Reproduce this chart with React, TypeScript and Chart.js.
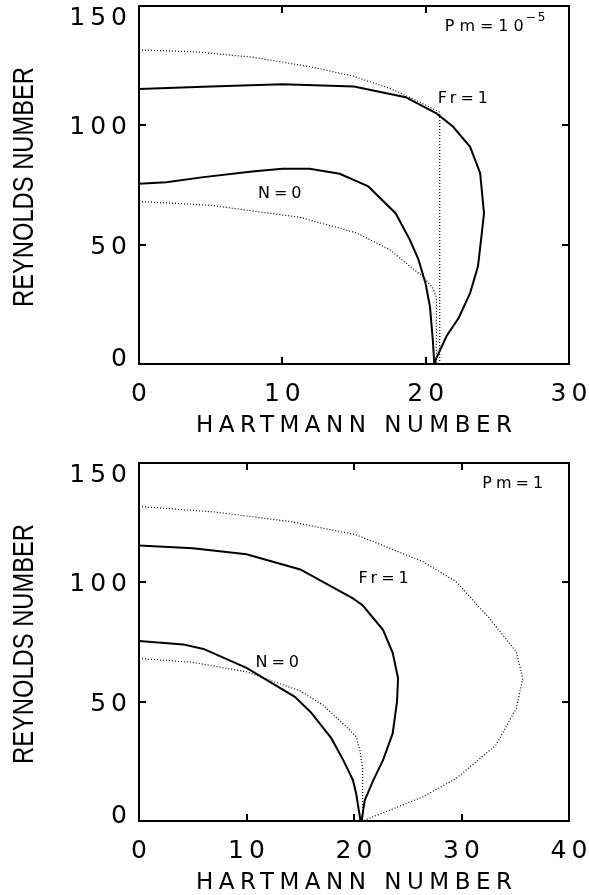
import React, { useEffect, useRef } from 'react';
import { Chart, registerables } from 'chart.js';

Chart.register(...registerables);

// ---------------- Data: upper panel (Pm = 1e-5) ----------------
const p1FrSolidHa = [0, 5, 10, 15, 18.6, 20.75, 21.9, 23.1, 23.8, 24.07, 23.9, 23.65, 23.1, 22.3, 21.45, 20.75, 20.6];
const p1FrSolidRe = [115.2, 116.3, 117.2, 116.3, 111.8, 105, 99.5, 91, 80, 63.2, 54, 40.9, 29.7, 19.3, 11.6, 2.5, 0];

const p1FrDotHa = [0, 4, 8, 12, 15, 17.5, 19.5, 20.98, 20.98];
const p1FrDotRe = [131.6, 130.8, 128.5, 124.5, 120.5, 115.5, 110, 105.5, 0];

const p1N0SolidHa = [0, 1.9, 4.5, 7.9, 10, 11.9, 14, 16, 17.9, 18.9, 19.5, 20.0, 20.3, 20.5, 20.6];
const p1N0SolidRe = [75.5, 76.2, 78.3, 80.7, 81.8, 81.8, 79.7, 74.4, 63.2, 52, 43.7, 33.5, 24, 10, 0];

const p1N0DotHa = [0, 5, 11.2, 15.2, 17.5, 18.9, 19.8, 20.5, 20.75, 20.75];
const p1N0DotRe = [68.1, 66.5, 61.5, 54.9, 47.9, 40.9, 36.7, 31.8, 28, 0];

// ---------------- Data: lower panel (Pm = 1) ----------------
const p2FrSolidHa = [0, 5, 10, 15, 19.9, 20.8, 22.7, 23.6, 24.1, 24.0, 23.6, 22.7, 21.8, 21.0, 20.7];
const p2FrSolidRe = [115.4, 114.3, 111.8, 105.4, 93.3, 90.4, 80.1, 70.5, 59.8, 50, 36.7, 25.5, 17.1, 8.7, 0];

const p2FrDotHa = [0, 7, 14, 20.2, 26.4, 29.5, 32.6, 35.1, 35.7, 35.1, 33.2, 29.5, 26.4, 20.8];
const p2FrDotRe = [131.8, 129.5, 125.5, 119.9, 108.7, 100.3, 84.9, 70.9, 59.8, 47.2, 31.8, 17.8, 10.1, 0];

const p2N0SolidHa = [0, 4.1, 6, 10, 14.5, 16, 17.9, 19.0, 19.9, 20.2, 20.5, 20.6];
const p2N0SolidRe = [75.4, 74, 72.1, 64.2, 52, 45.5, 34.6, 25.5, 17.1, 11.5, 3.1, 0];

const p2N0DotHa = [0, 5, 10, 15, 17.1, 19.3, 20.2, 20.55, 20.8, 20.8];
const p2N0DotRe = [68.1, 66.5, 62.5, 54.5, 48.6, 39.4, 35.3, 29.7, 22, 0];

// ---------------- Axes / labels ----------------
const xTitle = 'HARTMANN NUMBER';
const yTitle = 'REYNOLDS NUMBER';
const reMax = 150;
const reStep = 50;
const haStep = 10;
const p1HaMax = 30;
const p2HaMax = 40;

const p1Texts = ['Fr=1', 'N=0'];
const p1TextHa = [22.6, 9.82];
const p1TextRe = [111.7, 72.2];
const p1Pm = 'Pm=10';
const p1PmExp = '\u22125';

const p2Texts = ['Fr=1', 'N=0', 'Pm=1'];
const p2TextHa = [22.76, 12.86, 34.76];
const p2TextRe = [102.1, 67.0, 142.1];

type Curve = { ha: number[]; re: number[]; dotted: boolean };

type Panel = {
  haMax: number;
  height: number;
  padTop: number;
  xAxisH: number;
  curves: Curve[];
  texts: string[];
  textHa: number[];
  textRe: number[];
  pm?: { text: string; exp: string; ha: number; re: number };
};

const panel1: Panel = {
  haMax: p1HaMax,
  height: 445,
  padTop: 6,
  xAxisH: 81,
  curves: [
    { ha: p1FrSolidHa, re: p1FrSolidRe, dotted: false },
    { ha: p1FrDotHa, re: p1FrDotRe, dotted: true },
    { ha: p1N0SolidHa, re: p1N0SolidRe, dotted: false },
    { ha: p1N0DotHa, re: p1N0DotRe, dotted: true },
  ],
  texts: p1Texts,
  textHa: p1TextHa,
  textRe: p1TextRe,
  pm: { text: p1Pm, exp: p1PmExp, ha: 21.33, re: 139.6 },
};

const panel2: Panel = {
  haMax: p2HaMax,
  height: 450,
  padTop: 18,
  xAxisH: 74,
  curves: [
    { ha: p2FrSolidHa, re: p2FrSolidRe, dotted: false },
    { ha: p2FrDotHa, re: p2FrDotRe, dotted: true },
    { ha: p2N0SolidHa, re: p2N0SolidRe, dotted: false },
    { ha: p2N0DotHa, re: p2N0DotRe, dotted: true },
  ],
  texts: p2Texts,
  textHa: p2TextHa,
  textRe: p2TextRe,
};

const FONT = '"DejaVu Sans", "Liberation Sans", sans-serif';

function textPlugin(p: Panel) {
  return {
    id: 'panelText',
    afterDraw(chart: any) {
      const ctx = chart.ctx as CanvasRenderingContext2D & { letterSpacing?: string };
      const xs = chart.scales.x;
      const ys = chart.scales.y;
      const { left, right, top, bottom } = chart.chartArea;
      ctx.save();
      ctx.fillStyle = '#000';
      ctx.textBaseline = 'alphabetic';

      // tick labels
      const tf = 25;
      const ts = 5;
      const cap = tf * 0.3645;
      ctx.font = `${tf}px ${FONT}`;
      ctx.letterSpacing = `${ts}px`;
      ctx.textAlign = 'center';
      xs.ticks.forEach((t: any) => {
        const px = xs.getPixelForValue(t.value);
        ctx.fillText(String(t.label), px + ts / 2, bottom + 28 + cap);
      });
      ctx.textAlign = 'right';
      const n = ys.ticks.length;
      ys.ticks.forEach((t: any, i: number) => {
        let cy = ys.getPixelForValue(t.value);
        if (i === n - 1) cy += 9.5;
        else if (i === 0) cy -= 7.5;
        ctx.fillText(String(t.label), left - 12 + ts, cy + cap);
      });

      // x title
      const xf = 23;
      const xsSp = 5.5;
      ctx.font = `${xf}px ${FONT}`;
      ctx.letterSpacing = `${xsSp}px`;
      ctx.textAlign = 'center';
      ctx.fillText(xTitle, (left + right) / 2 + xsSp / 2, bottom + 60 + xf * 0.3645);

      // y title (rotated, condensed)
      ctx.letterSpacing = '0px';
      const yf = 29;
      ctx.font = `${yf}px "Liberation Sans", "DejaVu Sans", sans-serif`;
      const w = ctx.measureText(yTitle).width;
      const f = 240 / w;
      ctx.save();
      ctx.translate(33, (top + bottom) / 2 + 2);
      ctx.rotate(-Math.PI / 2);
      ctx.scale(f, 1);
      ctx.textAlign = 'center';
      ctx.fillText(yTitle, 0, 0);
      ctx.restore();

      // annotations
      const af = 16;
      const as = 4;
      ctx.font = `${af}px ${FONT}`;
      ctx.letterSpacing = `${as}px`;
      ctx.textAlign = 'center';
      p.texts.forEach((s, i) => {
        const px = xs.getPixelForValue(p.textHa[i]);
        const py = ys.getPixelForValue(p.textRe[i]);
        ctx.fillText(s, px + as / 2, py + af * 0.3645);
      });
      if (p.pm) {
        const px = xs.getPixelForValue(p.pm.ha);
        const py = ys.getPixelForValue(p.pm.re);
        ctx.textAlign = 'left';
        ctx.letterSpacing = '5px';
        ctx.fillText(p.pm.text, px, py);
        const wm = ctx.measureText(p.pm.text).width;
        ctx.font = `12px ${FONT}`;
        ctx.letterSpacing = '2px';
        ctx.fillText(p.pm.exp, px + wm - 3, py - 10);
      }
      ctx.restore();
    },
  };
}

function axis(min: number, max: number, step: number, position: string, size: number, horizontal: boolean) {
  return {
    type: 'linear',
    position,
    min,
    max,
    ticks: { display: false, stepSize: step },
    grid: {
      display: true,
      drawOnChartArea: false,
      drawTicks: true,
      tickLength: -7,
      color: '#000',
      lineWidth: 2,
    },
    border: { display: true, color: '#000', width: 2 },
    afterFit: (s: any) => {
      if (horizontal) s.height = size;
      else s.width = size;
    },
  };
}

function PanelChart({ p, top }: { p: Panel; top: number }) {
  const ref = useRef<HTMLCanvasElement | null>(null);
  useEffect(() => {
    if (!ref.current) return;
    const datasets = p.curves.map((c) => ({
      data: c.ha.map((x, i) => ({ x, y: c.re[i] })),
      showLine: true,
      borderColor: '#000',
      borderWidth: c.dotted ? 1.2 : 2,
      borderDash: c.dotted ? [1, 2] : [],
      pointRadius: 0,
      pointHoverRadius: 0,
      fill: false,
      tension: 0,
    }));
    const chart = new Chart(ref.current, {
      type: 'scatter',
      data: { datasets } as any,
      options: {
        animation: false,
        responsive: false,
        devicePixelRatio: 1,
        layout: { padding: { top: p.padTop, right: 20, left: 0, bottom: 0 } },
        plugins: { legend: { display: false }, tooltip: { enabled: false }, title: { display: false } },
        scales: {
          x: axis(0, p.haMax, haStep, 'bottom', p.xAxisH, true),
          x2: axis(0, p.haMax, haStep, 'top', 0, true),
          y: axis(0, reMax, reStep, 'left', 139, false),
          y2: axis(0, reMax, reStep, 'right', 0, false),
        } as any,
      },
      plugins: [textPlugin(p)],
    });
    return () => chart.destroy();
  }, [p]);
  return (
    <canvas
      ref={ref}
      width={589}
      height={p.height}
      style={{ position: 'absolute', left: 0, top, width: 589, height: p.height, display: 'block' }}
    />
  );
}

export default function App() {
  return (
    <div style={{ position: 'absolute', left: 0, top: 0, width: 589, height: 895, background: '#fff' }}>
      <PanelChart p={panel1} top={0} />
      <PanelChart p={panel2} top={445} />
    </div>
  );
}
